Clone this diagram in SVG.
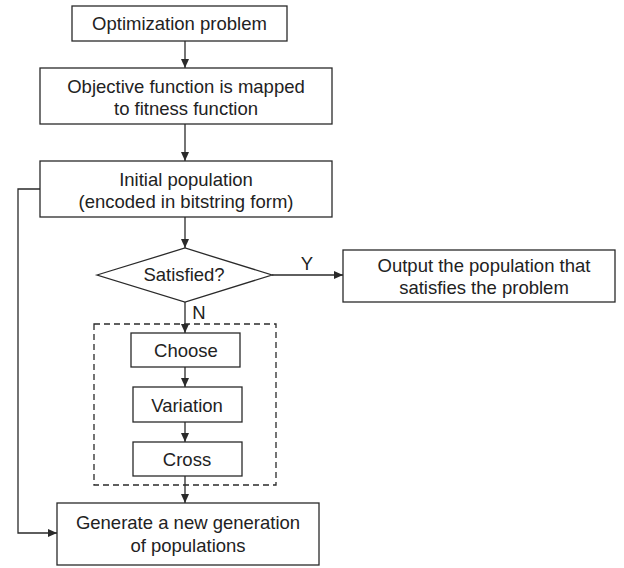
<svg xmlns="http://www.w3.org/2000/svg" width="624" height="568" viewBox="0 0 624 568">
<defs>
<marker id="ah" markerWidth="10" markerHeight="8" refX="9" refY="4" orient="auto" markerUnits="userSpaceOnUse">
<path d="M0,0 L9,4 L0,8 Z" fill="#2a2a2a"/>
</marker>
<style>
.box{fill:#fff;stroke:#2a2a2a;stroke-width:1.3}
.t{font-family:"Liberation Sans",Arial,sans-serif;font-size:18.5px;fill:#222;text-anchor:middle}
.c{fill:none;stroke:#2a2a2a;stroke-width:1.3}
</style>
</defs>
<rect width="624" height="568" fill="#fff"/>
<g id="dashed-group"><rect x="94" y="324" width="182" height="161" fill="none" stroke="#2a2a2a" stroke-width="1.3" stroke-dasharray="6,4"/></g>
<g id="connectors">
<line class="c" x1="185" y1="41" x2="185" y2="68" marker-end="url(#ah)"/>
<line class="c" x1="185" y1="124" x2="185" y2="161" marker-end="url(#ah)"/>
<line class="c" x1="185" y1="217" x2="185" y2="248" marker-end="url(#ah)"/>
<line class="c" x1="272" y1="275" x2="343" y2="275" marker-end="url(#ah)"/>
<line class="c" x1="185" y1="302" x2="185" y2="333" marker-end="url(#ah)"/>
<line class="c" x1="185" y1="367" x2="185" y2="387" marker-end="url(#ah)"/>
<line class="c" x1="185" y1="422" x2="185" y2="442" marker-end="url(#ah)"/>
<line class="c" x1="185" y1="476" x2="185" y2="503" marker-end="url(#ah)"/>
<polyline class="c" points="40,189 18,189 18,533 57,533" marker-end="url(#ah)"/>
<text class="t" x="307" y="270">Y</text>
<text class="t" x="199" y="319">N</text>
</g>
<g id="n1"><rect class="box" x="72" y="6" width="215" height="35"/><text class="t" x="179.5" y="30">Optimization problem</text></g>
<g id="n2"><rect class="box" x="40" y="68" width="292" height="56"/><text class="t" x="186" y="93">Objective function is mapped</text><text class="t" x="186" y="115">to fitness function</text></g>
<g id="n3"><rect class="box" x="40" y="161" width="292" height="56"/><text class="t" x="186" y="186">Initial population</text><text class="t" x="186" y="208">(encoded in bitstring form)</text></g>
<g id="n4"><polygon class="box" points="97,275 185,248 272,275 185,302"/><text class="t" x="184" y="281">Satisfied?</text></g>
<g id="n5"><rect class="box" x="343" y="250" width="272" height="52"/><text class="t" x="484" y="272">Output the population that</text><text class="t" x="484" y="294">satisfies the problem</text></g>
<g id="n6"><rect class="box" x="131" y="333" width="109" height="34"/><text class="t" x="186" y="357">Choose</text></g>
<g id="n7"><rect class="box" x="133" y="387" width="109" height="35"/><text class="t" x="187" y="412">Variation</text></g>
<g id="n8"><rect class="box" x="133" y="442" width="109" height="34"/><text class="t" x="187" y="466">Cross</text></g>
<g id="n9"><rect class="box" x="57" y="503" width="262" height="62"/><text class="t" x="188" y="529">Generate a new generation</text><text class="t" x="188" y="552">of populations</text></g>
</svg>
